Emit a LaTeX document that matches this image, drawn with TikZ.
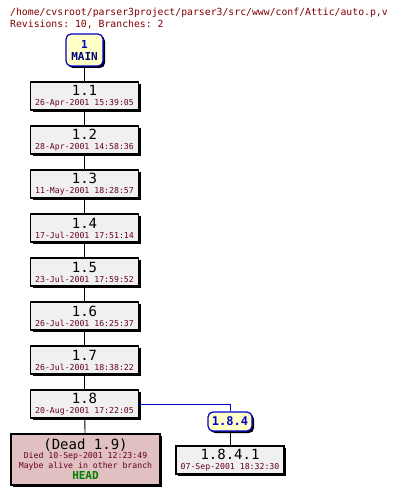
\documentclass[tikz,border=0pt]{standalone}
\usepackage{fontspec}
\setmonofont{DejaVu Sans Mono}
\usetikzlibrary{shadows}
\definecolor{titlered}{HTML}{800000}
\definecolor{datered}{HTML}{660022}
\definecolor{boxgray}{HTML}{F0F0F0}
\definecolor{tagyellow}{HTML}{FFFFC8}
\definecolor{tagblue}{HTML}{0000CC}
\definecolor{navy}{HTML}{000080}
\definecolor{deadfill}{HTML}{E0C0C0}
\definecolor{headgreen}{HTML}{008000}
\newcommand{\revf}{\ttfamily\fontsize{14}{14}\selectfont}
\newcommand{\datef}{\ttfamily\fontsize{8.2}{9}\selectfont\color{datered}}
\tikzset{
  revbox/.style={draw=black, line width=1.2pt, fill=boxgray, minimum width=108pt, minimum height=28pt, inner sep=0pt, align=center,
    drop shadow={shadow xshift=2pt, shadow yshift=-2pt, fill=black, opacity=1}},
  tagbox/.style={draw=tagblue, line width=1.2pt, fill=tagyellow, rounded corners=5pt, inner sep=0pt, align=center,
    drop shadow={shadow xshift=2pt, shadow yshift=-2pt, fill=black, opacity=1}},
  conn/.style={line width=0.9pt, black},
}
\begin{document}
\begin{tikzpicture}[x=1pt,y=-1pt]
\useasboundingbox (0,0) rectangle (404,495);
\node[anchor=base west, inner sep=0pt, text=titlered, font=\ttfamily\fontsize{9.8}{10}\selectfont] (title) at (10,16) {/home/cvsroot/parser3project/parser3/src/www/conf/Attic/auto.p,v};
\node[anchor=base west, inner sep=0pt, text=titlered, font=\ttfamily\fontsize{9.8}{10}\selectfont] (subtitle) at (10,28) {Revisions: 10, Branches: 2};

\node[tagbox, minimum width=37pt, minimum height=32pt, font=\ttfamily\bfseries\fontsize{11}{13}\selectfont] (main) at (84.5,50) {\textcolor{tagblue}{1}\\[-1pt]\textcolor{navy}{MAIN}};

\foreach \r/\d [count=\i from 0] in {1.1/26-Apr-2001 15:39:05, 1.2/28-Apr-2001 14:58:36, 1.3/11-May-2001 18:28:57, 1.4/17-Jul-2001 17:51:14, 1.5/23-Jul-2001 17:59:52, 1.6/26-Jul-2001 16:25:37, 1.7/26-Jul-2001 18:38:22, 1.8/20-Aug-2001 17:22:05}{
  \node[revbox] (r\i) at (84.5,{96+44*\i}) {\revf\r\\[-2pt]\datef\d};
}

\node[revbox, fill=deadfill, minimum width=149pt, minimum height=51pt] (dead) at (85.5,459.5)
  {\revf(Dead 1.9)\\[-3pt]\datef Died 10-Sep-2001 12:23:49\\[-2pt]\datef Maybe alive in other branch\\[-1pt]{\ttfamily\bfseries\fontsize{11}{12}\selectfont\color{headgreen}HEAD}};

\node[tagbox, minimum width=44pt, minimum height=19pt, font=\ttfamily\bfseries\fontsize{12}{12}\selectfont, text=tagblue] (b184) at (230,421.5) {1.8.4};
\node[revbox] (r1841) at (230,460) {\revf1.8.4.1\\[-2pt]\datef 07-Sep-2001 18:32:30};

\draw[conn] (main) -- (r0);
\foreach \i [evaluate=\i as \j using int(\i+1)] in {0,...,6}{
  \draw[conn] (r\i) -- (r\j);
}
\draw[conn] (r7) -- (dead);
\draw[line width=0.9pt, tagblue] (r7.east) -| (b184.north);
\draw[conn] (b184) -- (r1841);
\end{tikzpicture}
\end{document}
